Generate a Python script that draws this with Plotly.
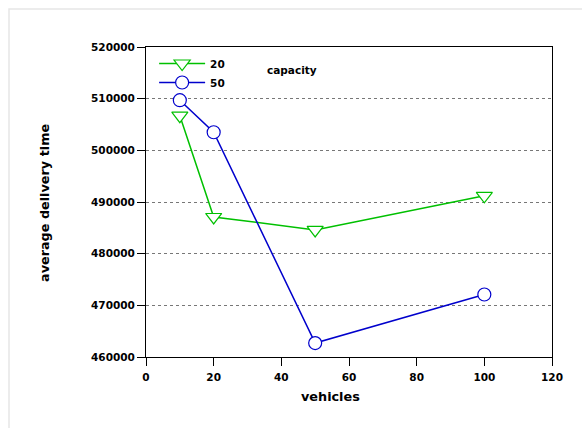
import plotly.graph_objects as go

vehicles = [10, 20, 50, 100]
cap20 = [506700, 487100, 484600, 491200]
cap50 = [509700, 503500, 462700, 472100]
series_names = ["20", "50"]
legend_title = "capacity"
x_title = "vehicles"
y_title = "average delivery time"

W, H = 582, 428
L, R, T, B = 146, 30, 47, 71
pw, ph = W - L - R, H - T - B

font = dict(family="DejaVu Sans", size=10.5, color="black", weight="bold")
title_font = dict(family="DejaVu Sans", size=12.8, color="black", weight="bold")

fig = go.Figure()
fig.add_trace(go.Scatter(
    x=vehicles, y=cap20, name=series_names[0], mode="lines+markers",
    line=dict(color="#00c000", width=1.5),
    marker=dict(symbol="triangle-down", size=14, color="white",
                line=dict(color="#00c000", width=1.2)),
))
fig.add_trace(go.Scatter(
    x=vehicles, y=cap50, name=series_names[1], mode="lines+markers",
    line=dict(color="#0000cc", width=1.5),
    marker=dict(symbol="circle", size=13, color="white",
                line=dict(color="#0000cc", width=1.2)),
))

axis_common = dict(
    showline=True, linecolor="black", linewidth=1, mirror=True,
    ticks="outside", ticklen=8, tickcolor="black", tickwidth=1,
    tickfont=font, zeroline=False,
)
fig.update_xaxes(range=[0, 120], dtick=20, showgrid=False, ticklabelstandoff=2,
                 **axis_common)
fig.update_yaxes(range=[460000, 520000], dtick=10000, tickformat="d",
                 showgrid=True, gridcolor="#777777", griddash="3px,3px", gridwidth=1,
                 **axis_common)

def px_x(p):
    return (p - L) / pw

def px_y(p):
    return (H - B - p) / ph

fig.add_annotation(text=x_title, xref="paper", yref="paper",
                   x=px_x(330), y=px_y(397), xanchor="center", yanchor="middle",
                   showarrow=False, font=title_font)
fig.add_annotation(text=y_title, xref="paper", yref="paper",
                   x=px_x(45), y=px_y(203), xanchor="center", yanchor="middle",
                   textangle=-90, showarrow=False, font=title_font)
fig.add_annotation(text=legend_title, xref="paper", yref="paper",
                   x=px_x(265), y=px_y(70), xanchor="left", yanchor="middle",
                   showarrow=False, font=font)

# light outer frame
fig.add_shape(type="rect", xref="paper", yref="paper",
              x0=px_x(9), x1=px_x(W + 5),
              y0=px_y(H + 5), y1=px_y(9),
              line=dict(color="#e6e6e6", width=1.5), layer="below")

fig.update_layout(
    width=W, height=H,
    margin=dict(l=L, r=R, t=T, b=B),
    paper_bgcolor="white", plot_bgcolor="white",
    showlegend=True,
    legend=dict(x=0.02, y=px_y(49), xanchor="left", yanchor="top",
                bgcolor="rgba(0,0,0,0)", font=font, tracegroupgap=0,
                itemwidth=46),
)

fig.write_html("out.html")
